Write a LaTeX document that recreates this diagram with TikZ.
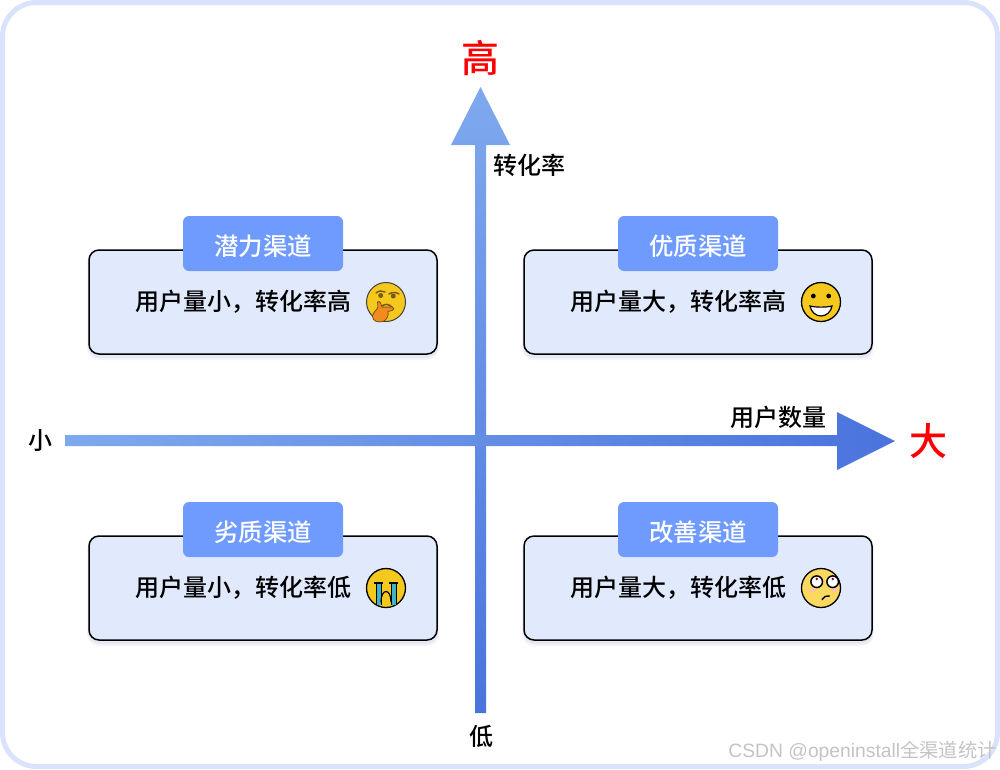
\documentclass[tikz,border=0pt]{standalone}
\usepackage{fontspec}
\usetikzlibrary{calc}
\setmainfont{Noto Sans CJK SC Medium}
\newfontfamily\wlat{Liberation Sans}
\newfontfamily\wcjk{Noto Sans CJK SC}
\definecolor{frameC}{HTML}{DBE2FE}
\definecolor{boxC}{HTML}{E1EAFD}
\definecolor{tabC}{HTML}{6F9BFF}
\definecolor{axA}{HTML}{7FA9EE}
\definecolor{axB}{HTML}{4A73DD}
\definecolor{faceC}{HTML}{F5C81E}
\definecolor{rollC}{HTML}{FBD860}
\definecolor{tearC}{HTML}{3FB4C8}
\definecolor{handC}{HTML}{F28A1E}
\definecolor{browC}{HTML}{7A5A1A}
\definecolor{markC}{HTML}{C4C4C4}
\newcommand{\px}[1]{\fontsize{#1pt}{#1pt}\selectfont}
\tikzset{
  x=1pt,y=-1pt,
  infobox/.style={draw=black,line width=1.5pt,fill=boxC,rounded corners=10pt,minimum width=348pt,minimum height=104pt,inner sep=0pt},
  tabbox/.style={fill=tabC,rounded corners=6pt,minimum width=160pt,minimum height=55pt,inner sep=0pt},
  tabtxt/.style={inner sep=0pt,text=white,font=\px{24.4}},
  bodytxt/.style={inner sep=0pt,font=\px{24},text=black},
  axislbl/.style={inner sep=0pt,font=\px{24},text=black},
  endlbl/.style={inner sep=0pt,font=\px{38},text=red},
  faceline/.style={draw=black,line width=1.3pt}
}
\begin{document}
\begin{tikzpicture}
\useasboundingbox (0,0) rectangle (1000,769);
\fill[white] (0,0) rectangle (1000,769);
\draw[frameC,line width=5pt,rounded corners=34pt] (2.5,2.5) rectangle (997.5,766.5);

% soft shadows
\foreach \cx/\cy in {263/302,698/302,263/588,698/588}{
  \fill[blue!40!gray,opacity=.06,rounded corners=12pt] (\cx-176,\cy-50) rectangle (\cx+176,\cy+58);
  \fill[blue!40!gray,opacity=.07,rounded corners=11pt] (\cx-175,\cy-50) rectangle (\cx+175,\cy+56);
}

% boxes
\node[infobox] (b1) at (263,302) {};
\node[infobox] (b2) at (698,302) {};
\node[infobox] (b3) at (263,588) {};
\node[infobox] (b4) at (698,588) {};
\node[tabbox] (t1) at (263,243.5) {};
\node[tabbox] (t2) at (698,243.5) {};
\node[tabbox] (t3) at (263,529.5) {};
\node[tabbox] (t4) at (698,529.5) {};
\node[tabtxt] (tl1) at (263,246) {潜力渠道};
\node[tabtxt] (tl2) at (698,246) {优质渠道};
\node[tabtxt] (tl3) at (263,532) {劣质渠道};
\node[tabtxt] (tl4) at (698,532) {改善渠道};
\node[bodytxt] (x1) at (243.5,302) {用户量小，转化率高};
\node[bodytxt] (x2) at (678.5,302) {用户量大，转化率高};
\node[bodytxt] (x3) at (243.5,588) {用户量小，转化率低};
\node[bodytxt] (x4) at (678.5,588) {用户量大，转化率低};

% axes
\shade[top color=axA,bottom color=axB]
  (475,713) -- (475,145) -- (451,145) -- (480.5,87) -- (510,145) -- (486,145) -- (486,713) -- cycle;
\shade[left color=axA,right color=axB]
  (65,435) -- (837,435) -- (837,412) -- (895,441) -- (837,470) -- (837,446) -- (65,446) -- cycle;

\node[endlbl] (hi) at (480,58) {高};
\node[endlbl] (bg) at (928,441) {大};
\node[axislbl] (lo) at (481,736) {低};
\node[axislbl] (sm) at (40,441) {小};
\node[axislbl] (yl) at (529,165) {转化率};
\node[axislbl] (xl) at (778,417) {用户数量};

% thinking face
\begin{scope}[shift={(386,302)}]
  \fill[faceC] (0,0) circle (19.5);
  \draw[black!75,line width=1pt] (0,0) circle (19.5);
  \draw[browC,line width=1.5pt,line cap=round] (-10,-9) .. controls (-7,-11.5) and (-4,-11.5) .. (-1,-10);
  \draw[browC,line width=1.5pt,line cap=round] (3,-8) .. controls (6,-10) and (10,-10) .. (13,-8);
  \fill[browC] (-5.3,-6.5) circle (2.5);
  \fill[browC] (7.3,-6) circle (2.5);
  \draw[browC,line width=1.5pt,line cap=round] (-4,4) .. controls (-1,1.5) and (3,2) .. (6,5);
  \draw[fill=handC,draw=browC!80!black,line width=.7pt] (-8.5,0) .. controls (-7.5,-1) and (-6,-0.5) .. (-5.5,1) -- (-4,5) -- (6,5)
     .. controls (8.5,5) and (8.5,8.5) .. (6,8.5) -- (2,9.5)
     .. controls (3,13) and (1,18) .. (-3,19.5) .. controls (-8,21) and (-14,19) .. (-13.5,14)
     .. controls (-13,10) and (-9,8) .. (-8,5) -- cycle;
\end{scope}

% smiling face
\begin{scope}[shift={(821,302)}]
  \fill[faceC] (0,0) circle (19.5);
  \draw[faceline] (0,0) circle (19.5);
  \fill[black] (-7.7,-6) circle (2.4);
  \fill[black] (7.7,-6) circle (2.4);
  \draw[fill=white,draw=black,line width=1.2pt] (-11,4) .. controls (-5,5.5) and (5,5.5) .. (11,4)
     .. controls (10,10) and (5,14) .. (0,14) .. controls (-5,14) and (-10,10) .. cycle;
\end{scope}

% crying face
\begin{scope}[shift={(386,588)}]
  \fill[faceC] (0,0) circle (19.5);
  \draw[faceline] (0,0) circle (19.5);
  \fill[tearC] (-10,-5) rectangle (-5,17);
  \fill[tearC] (5,-5) rectangle (10,17);
  \draw[black,line width=.9pt] (-10,17) -- (-10,-5) (-5,17) -- (-5,-5)
     (5,-5) -- (5,17) (10,-5) -- (10,17);
  \draw[black,line width=1.2pt] (-12,-5) -- (-3,-5) (3,-5) -- (12,-5);
  \draw[black,line width=1.2pt] (-5,14) .. controls (-5,0) and (5,0) .. (5,14);
\end{scope}

% eye-rolling face
\begin{scope}[shift={(821,588)}]
  \fill[rollC] (0,0) circle (19.5);
  \draw[faceline] (0,0) circle (19.5);
  \fill[pink] (-8.5,2.5) ellipse (2.8 and 1.6);
  \fill[pink] (14,2.5) ellipse (2.8 and 1.6);
  \draw[fill=white,draw=black,line width=1.5pt] (-4.3,-6.3) circle (5.8);
  \draw[fill=white,draw=black,line width=1.5pt] (11.7,-6.3) circle (5.8);
  \fill[purple!70!black] (-4.3,-9) circle (1.3);
  \fill[purple!70!black] (11.7,-9) circle (1.3);
  \draw[black,line width=1.4pt,line cap=round] (1,11.5) .. controls (2.5,8.5) and (5,8) .. (8.5,8);
\end{scope}

% watermark
\node[anchor=east,inner sep=0pt,text=markC,font=\px{19.3}] (wm) at (997,751) {{\wlat CSDN @openinstall}{\wcjk 全渠道统计}};
\end{tikzpicture}
\end{document}
